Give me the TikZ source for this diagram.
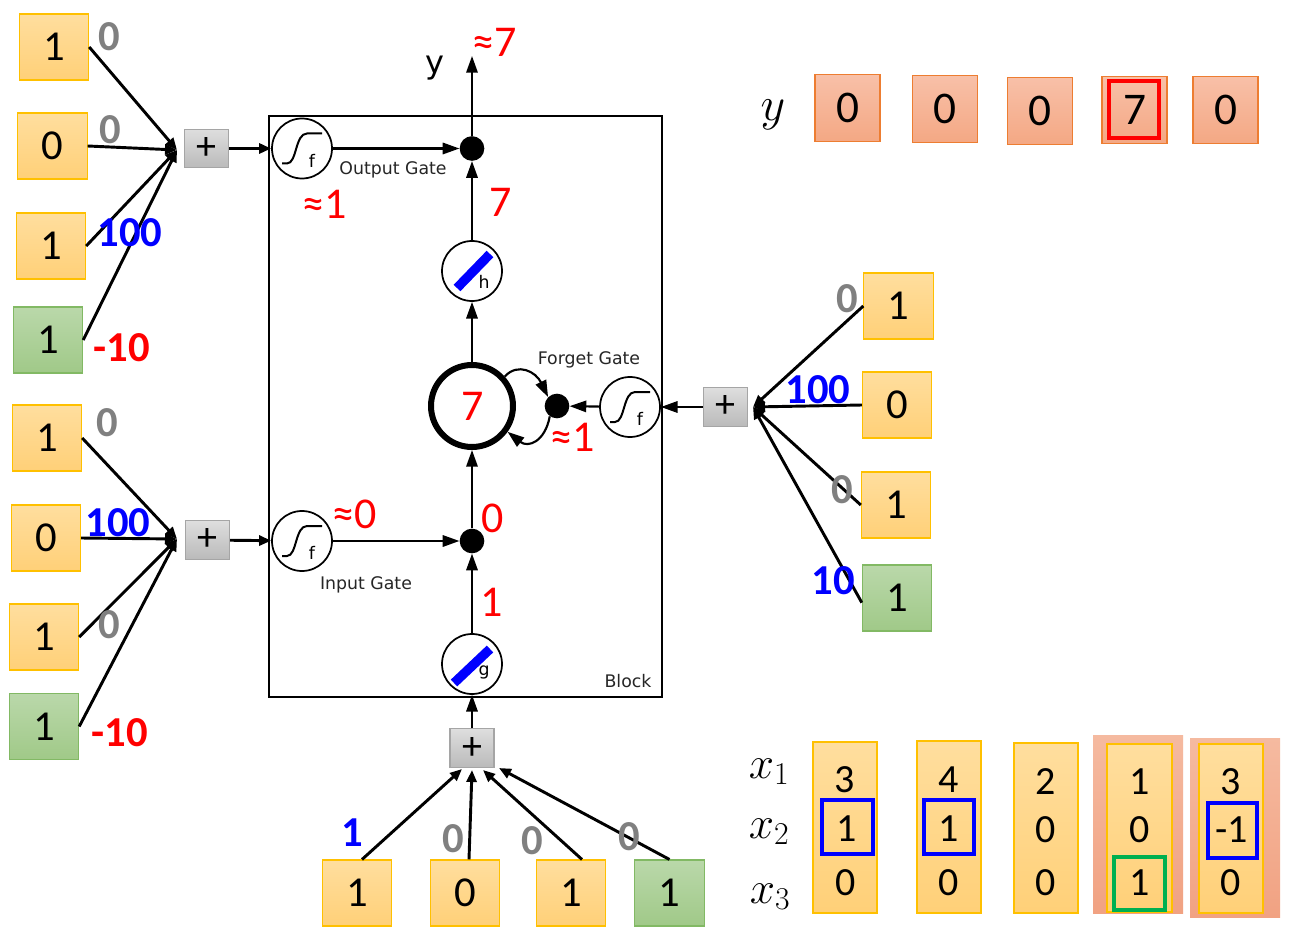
\documentclass[tikz,border=0pt]{standalone}
\usepackage{fix-cm}
\usepackage{fontspec}
\setmainfont{Carlito}
\newfontfamily\dv{DejaVu Sans}
\usetikzlibrary{arrows.meta}
\definecolor{obord}{RGB}{255,192,0}
\definecolor{otop}{RGB}{255,222,158}
\definecolor{obot}{RGB}{255,208,120}
\definecolor{gtop}{RGB}{186,216,170}
\definecolor{gbot}{RGB}{160,201,136}
\definecolor{gbord}{RGB}{130,185,100}
\definecolor{stop}{RGB}{248,192,168}
\definecolor{sbot}{RGB}{244,168,132}
\definecolor{sbord}{RGB}{237,125,49}
\definecolor{bgtop}{RGB}{245,186,160}
\definecolor{bgbot}{RGB}{241,162,130}
\definecolor{ptop}{RGB}{222,222,222}
\definecolor{pbot}{RGB}{186,186,186}
\definecolor{pbord}{RGB}{165,165,165}
\definecolor{wgrey}{RGB}{128,128,128}
\definecolor{wred}{RGB}{255,0,0}
\definecolor{wblue}{RGB}{0,0,255}
\definecolor{wgreen}{RGB}{0,176,80}
\tikzset{
  obox/.style={draw=obord, line width=0.8pt, top color=otop, bottom color=obot,
    minimum width=52pt, minimum height=49.5pt, inner sep=0pt, font=\fontsize{32}{38}\selectfont},
  gbox/.style={obox, draw=gbord, top color=gtop, bottom color=gbot},
  sbox/.style={draw=sbord, line width=1pt, top color=stop, bottom color=sbot,
    minimum width=48.75pt, minimum height=50pt, inner sep=0pt, font=\fontsize{34}{40}\selectfont},
  pbox/.style={draw=pbord, line width=0.8pt, top color=ptop, bottom color=pbot,
    minimum width=33pt, minimum height=29pt, inner sep=0pt, font=\fontsize{30}{34}\selectfont},
  wlab/.style={font=\bfseries\fontsize{32}{38}\selectfont, inner sep=0pt},
  rlab/.style={text=wred, font=\fontsize{33}{40}\selectfont, inner sep=0pt},
  gatelab/.style={font=\dv\fontsize{13}{15}\selectfont, text=black!85, inner sep=0pt},
  unitc/.style={circle, draw, line width=1.3pt, minimum size=45pt, inner sep=0pt},
  cellc/.style={circle, draw, line width=4.5pt, minimum size=61.5pt, inner sep=0pt},
  dotc/.style={circle, fill, minimum size=18.5pt, inner sep=0pt},
  conn/.style={line width=1.6pt, -{Triangle[length=12.5pt,width=8.5pt]}},
  conn2/.style={line width=2.2pt, -{Triangle[length=9pt,width=7.5pt]}},
  hbar/.style={wblue, line width=7pt},
  tnum/.style={font=\fontsize{30}{36}\selectfont, inner sep=0pt},
  colfill/.style={draw=obord, line width=0.8pt, top color=otop, bottom color=obot},
  bgfill/.style={top color=bgtop, bottom color=bgbot},
  sig/.pic={
    \draw[line width=1.5pt] (-20,15) -- (-15,15) .. controls (-5,15) and (-7,-15) .. (5,-15) -- (20,-15);
    \node[font=\dv\fontsize{13}{15}\selectfont, inner sep=0pt] at (10,12) {f};
  }
}
\begin{document}
\begin{tikzpicture}[x=0.75pt,y=-0.75pt]
\useasboundingbox[fill=white] (0,0) rectangle (1292,941);

% ---------- block ----------
\draw[line width=2.1pt] (269,116) rectangle (662,697);
\node[gatelab] (blk) at (628,681) {Block};

% units
\node[unitc] (os) at (302,148.5) {};
\pic at (os.center) {sig};
\node[dotc] (od) at (472,148.5) {};
\node[unitc] (hu) at (472,271) {};
\draw[hbar] (457,288) -- (490,254);
\node[font=\dv\fontsize{13}{15}\selectfont, inner sep=0pt] (hl) at (484,282) {h};
\node[cellc] (cell) at (472,406) {};
\node[rlab] (cv) at (473,406) {7};
\node[dotc] (fd) at (557,406) {};
\node[unitc] (fs) at (630,407) {};
\pic at (fs.center) {sig};
\node[dotc] (id) at (472,541) {};
\node[unitc] (is) at (302,541) {};
\pic at (is.center) {sig};
\node[unitc] (gu) at (472,664) {};
\draw[hbar] (454,683) -- (490,649);
\node[font=\dv\fontsize{13}{15}\selectfont, inner sep=0pt] (gl) at (484,672) {g};

\coordinate (ytip) at (472,56);

% internal connectors
\draw[conn] (os) -- (od);
\draw[conn] (hu) -- (od);
\draw[conn] (cell) -- (hu);
\draw[conn] (id) -- (cell);
\draw[conn] (gu) -- (id);
\draw[conn] (is) -- (id);
\draw[conn] (fs) -- (fd);
\draw[conn] (od) -- (ytip);
\draw[conn] (cell.42) .. controls (518,362) and (536,372) .. (fd.135);
\draw[conn] (fd.235) .. controls (545,442) and (528,448) .. (cell.-36);

% internal labels
\node[gatelab] (og) at (393,170) {Output Gate};
\node[gatelab] (fg) at (589,360) {Forget Gate};
\node[gatelab] (ig) at (366,585) {Input Gate};
\node[rlab] (r1) at (325,204) {≈1};
\node[rlab] (r2) at (501,202) {7};
\node[rlab] (r3) at (573,437) {≈1};
\node[rlab] (r4) at (355,514) {≈0};
\node[rlab] (r5) at (493,518) {0};
\node[rlab] (r6) at (492,602) {1};
\node[rlab] (r7) at (495,42) {≈7};
\node[font=\dv\fontsize{24}{28}\selectfont, inner sep=0pt] (yl) at (435,68) {y};

% ---------- top-left inputs (output gate) ----------
\node[obox] (L1) at (54,47) {1};
\node[obox] (L2) at (52.5,146) {0};
\node[obox] (L3) at (51,246) {1};
\node[gbox] (L4) at (48,340) {1};
\node[pbox] (PL) at (206.5,148.5) {+};
\coordinate (cL) at (177,150);
\draw[conn2] (L1.east) -- (cL);
\draw[conn2] (L2.east) -- (cL);
\draw[conn2] (L3.east) -- (cL);
\draw[conn2] (L4.east) -- (cL);
\draw[conn2] (PL) -- (os);
\node[wlab, text=wgrey] (wl1) at (109,37) {0};
\node[wlab, text=wgrey] (wl2) at (110,130) {0};
\node[wlab, text=wblue] (wl3) at (130,233) {100};
\node[wlab, text=wred] (wl4) at (122,348) {-10};

% ---------- bottom-left inputs (input gate) ----------
\node[obox] (M1) at (47,438) {1};
\node[obox] (M2) at (46,538) {0};
\node[obox] (M3) at (44,637) {1};
\node[gbox] (M4) at (44,726.5) {1};
\node[pbox] (PM) at (207.5,540) {+};
\coordinate (cM) at (177,539);
\draw[conn2] (M1.east) -- (cM);
\draw[conn2] (M2.east) -- (cM);
\draw[conn2] (M3.east) -- (cM);
\draw[conn2] (M4.east) -- (cM);
\draw[conn2] (PM) -- (is);
\node[wlab, text=wgrey] (wm1) at (107,423) {0};
\node[wlab, text=wblue] (wm2) at (118,523) {100};
\node[wlab, text=wgrey] (wm3) at (109,625) {0};
\node[wlab, text=wred] (wm4) at (120,733) {-10};

% ---------- right inputs (forget gate) ----------
\node[obox] (R1) at (898.5,306) {1};
\node[obox] (R2) at (897,405) {0};
\node[obox] (R3) at (896,505) {1};
\node[gbox] (R4) at (897,598) {1};
\node[pbox] (PR) at (725.5,407) {+};
\coordinate (cR) at (753,407);
\draw[conn2] (R1.west) -- (cR);
\draw[conn2] (R2.west) -- (cR);
\draw[conn2] (R3.west) -- (cR);
\draw[conn2] ([yshift=-3.5pt]R4.west) -- (cR);
\draw[conn] (PR) -- (fs);
\node[wlab, text=wgrey] (wr1) at (847,299) {0};
\node[wlab, text=wblue] (wr2) at (818,390) {100};
\node[wlab, text=wgrey] (wr3) at (842,490) {0};
\node[wlab, text=wblue] (wr4) at (833,581) {10};

% ---------- bottom inputs (g) ----------
\node[obox] (B1) at (357,893) {1};
\node[obox] (B2) at (465,893) {0};
\node[obox] (B3) at (571,893) {1};
\node[gbox] (B4) at (669.5,893) {1};
\node[pbox] (PB) at (472,748) {+};
\coordinate (b1) at (462,769);
\coordinate (b2) at (472,770);
\coordinate (b3) at (483,770);
\coordinate (b4) at (499,768);
\draw[conn2] ([xshift=3.75pt]B1.north) -- (b1);
\draw[conn2] ([xshift=3pt]B2.north) -- (b2);
\draw[conn2] ([xshift=8.25pt]B3.north) -- (b3);
\draw[conn2] (B4.north) -- (b4);
\draw[conn] (PB) -- (gu);
\node[wlab, text=wblue] (wb1) at (352,833) {1};
\node[wlab, text=wgrey] (wb2) at (453,839) {0};
\node[wlab, text=wgrey] (wb3) at (532,841) {0};
\node[wlab, text=wgrey] (wb4) at (629,837) {0};

% ---------- y row ----------
\node[inner sep=0pt, font=\fontsize{36}{40}\selectfont] (ylab) at (773,115) {$y$};
\node[sbox] (Y1) at (847.5,108) {0};
\node[sbox] (Y2) at (945,109) {0};
\node[sbox] (Y3) at (1040,111) {0};
\node[sbox] (Y4) at (1134.5,110) {7};
\node[sbox] (Y5) at (1225.5,110) {0};
\draw[wred, line width=3pt] (1109,81) rectangle (1159,138);

% ---------- x table ----------
\node[inner sep=0pt, anchor=base, font=\fontsize{34}{40}\selectfont] (x1) at (769,778) {$x_1$};
\node[inner sep=0pt, anchor=base, font=\fontsize{34}{40}\selectfont] (x2) at (769,838) {$x_2$};
\node[inner sep=0pt, anchor=base, font=\fontsize{34}{40}\selectfont] (x3) at (770,903) {$x_3$};
\path[bgfill] (1093,735) rectangle (1183,913);
\path[bgfill] (1190,738) rectangle (1280,917);
\path[colfill] (813,742) rectangle (877,913);
\path[colfill] (917,741) rectangle (981,913);
\path[colfill] (1014,743) rectangle (1078,913);
\path[colfill] (1107,744) rectangle (1172,912);
\path[colfill] (1199,744) rectangle (1263,913);
\draw[wblue, line width=3.4pt] (822,800) rectangle (873,854);
\draw[wblue, line width=3.4pt] (924,800) rectangle (974,854);
\draw[wblue, line width=3.4pt] (1208,803) rectangle (1257,858);
\draw[wgreen, line width=3.4pt] (1114,857) rectangle (1165,910);
\node[tnum] (t11) at (845,780) {3};
\node[tnum] (t12) at (847,829) {1};
\node[tnum] (t13) at (846,883) {0};
\node[tnum] (t21) at (949,780) {4};
\node[tnum] (t22) at (949,829) {1};
\node[tnum] (t23) at (949,883) {0};
\node[tnum] (t31) at (1046,782) {2};
\node[tnum] (t32) at (1046,830) {0};
\node[tnum] (t33) at (1046,883) {0};
\node[tnum] (t41) at (1139.5,782) {1};
\node[tnum] (t42) at (1139.5,830) {0};
\node[tnum] (t43) at (1139.5,883) {1};
\node[tnum] (t51) at (1231,782) {3};
\node[tnum] (t52) at (1232,830) {-1};
\node[tnum] (t53) at (1231,883) {0};
\end{tikzpicture}
\end{document}
